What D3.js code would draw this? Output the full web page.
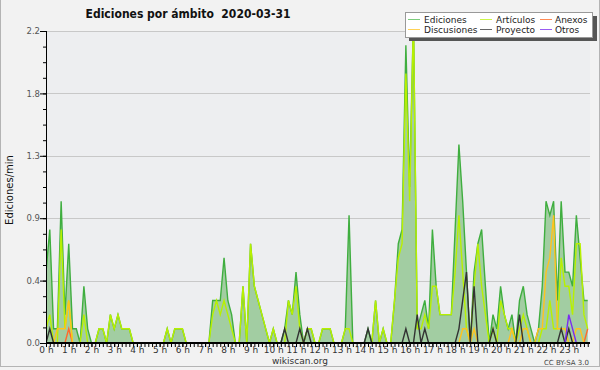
<!DOCTYPE html>
<html>
<head>
<meta charset="utf-8">
<script src="https://cdn.jsdelivr.net/npm/d3@7/dist/d3.min.js"></script>
<style>
  body { margin: 0; background: #f2f2f2; }
  text { font-family: "DejaVu Sans", sans-serif; }
</style>
</head>
<body>
<div id="chart"></div>
<script>
// 10-minute bins, edits per minute, 0h00 .. 23h50
const hourLabels = d3.range(24).map(h => h + ' h');
const yTicks = [0, 0.44, 0.88, 1.32, 1.76, 2.2];

const ediciones = [
  0.5, 0.8, 0.1, 0.1, 1.0, 0.2,
  0.7, 0.1, 0.1, 0, 0.4, 0.1,
  0, 0, 0.1, 0.1, 0, 0.2,
  0.1, 0.2, 0.1, 0.1, 0.1, 0,
  0, 0, 0, 0, 0, 0,
  0, 0, 0.1, 0, 0.1, 0.1,
  0.1, 0, 0, 0, 0, 0,
  0, 0, 0.3, 0.3, 0.3, 0.6,
  0.3, 0.2, 0, 0, 0.4, 0,
  0.7, 0.4, 0.3, 0.2, 0.1, 0,
  0.1, 0, 0, 0.1, 0.3, 0.2,
  0.5, 0.2, 0, 0.1, 0.1, 0,
  0, 0.1, 0.1, 0.1, 0, 0,
  0, 0.1, 0.9, 0, 0, 0,
  0, 0.1, 0, 0.3, 0, 0.1,
  0, 0, 0.3, 0.7, 0.8, 2.1,
  1.1, 2.3, 0.1, 0.2, 0.3, 0.1,
  0.8, 0.4, 0.2, 0.2, 0.2, 0.2,
  0.8, 1.4, 1.0, 0.5, 0, 0.5,
  0.7, 0.8, 0.4, 0, 0.2, 0.1,
  0.4, 0.2, 0.1, 0.2, 0, 0.3,
  0.4, 0.2, 0.1, 0, 0.1, 0.4,
  1.0, 0.9, 1.0, 0.3, 1.0, 0.5,
  0.5, 0.4, 0.9, 0.6, 0.3, 0.3
];
const articulos = [
  0.1, 0.2, 0, 0, 0.8, 0.1,
  0.3, 0, 0, 0, 0.2, 0,
  0, 0, 0.1, 0.1, 0, 0.2,
  0.1, 0.2, 0.1, 0.1, 0.1, 0,
  0, 0, 0, 0, 0, 0,
  0, 0, 0.1, 0, 0.1, 0.1,
  0.1, 0, 0, 0, 0, 0,
  0, 0, 0.2, 0.3, 0.2, 0.3,
  0.2, 0.1, 0, 0, 0.4, 0,
  0.7, 0.4, 0.3, 0.2, 0.1, 0,
  0.1, 0, 0, 0, 0.3, 0.2,
  0.4, 0.1, 0, 0.1, 0.1, 0,
  0, 0.1, 0.1, 0.1, 0, 0,
  0, 0.1, 0.1, 0, 0, 0,
  0, 0, 0, 0.3, 0, 0.1,
  0, 0, 0.3, 0.6, 0.7, 1.9,
  1.0, 2.3, 0.1, 0.1, 0.2, 0.1,
  0.4, 0.4, 0.2, 0.2, 0.2, 0.2,
  0.5, 0.9, 0.5, 0.1, 0, 0.4,
  0.7, 0.4, 0.2, 0, 0.1, 0,
  0.3, 0.2, 0.1, 0.1, 0, 0.1,
  0.2, 0.1, 0, 0, 0, 0.1,
  0.1, 0.3, 0.1, 0.1, 0.6, 0.4,
  0.4, 0.2, 0.7, 0.7, 0.2, 0.1
];
const anexos = [
  0, 0, 0, 0, 0, 0,  0.1, 0, 0, 0, 0, 0,
  0, 0, 0, 0, 0, 0,  0, 0, 0, 0, 0, 0,
  0, 0, 0, 0, 0, 0,  0, 0, 0, 0, 0, 0,
  0, 0, 0, 0, 0, 0,  0, 0, 0, 0, 0, 0,
  0, 0, 0, 0, 0, 0,  0, 0, 0, 0, 0, 0,
  0, 0, 0, 0, 0, 0,  0, 0, 0, 0, 0, 0,
  0, 0, 0, 0, 0, 0,  0, 0, 0, 0, 0, 0,
  0, 0, 0, 0, 0, 0,  0, 0, 0, 0, 0, 0,
  0, 0, 0, 0, 0, 0,  0, 0, 0, 0, 0, 0,
  0, 0, 0, 0, 0, 0,  0, 0, 0, 0, 0, 0,
  0, 0, 0, 0, 0, 0,  0, 0, 0, 0, 0, 0,
  0, 0, 0, 0, 0, 0,  0, 0, 0, 0, 0, 0.1
];
const discusiones = [
  0, 0, 0, 0.1, 0.1, 0.1,  0.3, 0, 0, 0, 0, 0,
  0, 0, 0, 0, 0, 0,  0, 0, 0, 0, 0, 0,
  0, 0, 0, 0, 0, 0,  0, 0, 0, 0, 0, 0,
  0, 0, 0, 0, 0, 0,  0, 0, 0, 0, 0, 0,
  0, 0, 0, 0, 0, 0,  0, 0, 0, 0, 0, 0,
  0, 0, 0, 0, 0, 0,  0, 0, 0, 0, 0, 0,
  0, 0, 0, 0, 0, 0,  0, 0, 0, 0, 0, 0,
  0, 0, 0, 0, 0, 0,  0, 0, 0, 0, 0, 0,
  0, 0, 0, 0, 0, 0,  0, 0, 0, 0, 0, 0,
  0, 0, 0.1, 0.1, 0, 0.1,  0, 0, 0, 0, 0, 0,
  0, 0, 0, 0.1, 0, 0,  0.1, 0.1, 0, 0, 0.1, 0.1,
  0.5, 0.6, 0.9, 0.1, 0.1, 0.1,  0, 0, 0.1, 0.1, 0, 0
];
const proyecto = [
  0, 0.1, 0, 0, 0, 0,  0, 0, 0, 0, 0, 0,
  0, 0, 0, 0, 0, 0,  0, 0, 0, 0, 0, 0,
  0, 0, 0, 0, 0, 0,  0, 0, 0, 0, 0, 0,
  0, 0, 0, 0, 0, 0,  0, 0, 0, 0, 0, 0,
  0, 0, 0, 0, 0, 0,  0, 0, 0, 0, 0, 0,
  0, 0, 0, 0.1, 0, 0,  0, 0.1, 0, 0.1, 0, 0,
  0, 0, 0, 0, 0, 0,  0, 0, 0, 0, 0, 0,
  0, 0.1, 0, 0, 0, 0,  0, 0, 0, 0, 0, 0.1,
  0, 0, 0.2, 0, 0.1, 0,  0, 0, 0, 0, 0, 0,
  0, 0.1, 0.3, 0.5, 0, 0.4,  0, 0, 0, 0, 0.1, 0,
  0, 0, 0, 0, 0, 0.2,  0, 0, 0, 0, 0, 0,
  0, 0, 0, 0, 0.1, 0,  0.1, 0, 0, 0, 0, 0
];
const otros = [
  0, 0, 0, 0, 0, 0,  0, 0, 0, 0, 0, 0,
  0, 0, 0, 0, 0, 0,  0, 0, 0, 0, 0, 0,
  0, 0, 0, 0, 0, 0,  0, 0, 0, 0, 0, 0,
  0, 0, 0, 0, 0, 0,  0, 0, 0, 0, 0, 0,
  0, 0, 0, 0, 0, 0,  0, 0, 0, 0, 0, 0,
  0, 0, 0, 0, 0, 0,  0, 0, 0, 0, 0, 0,
  0, 0, 0, 0, 0, 0,  0, 0, 0, 0, 0, 0,
  0, 0, 0, 0, 0, 0,  0, 0, 0, 0, 0, 0,
  0, 0, 0, 0, 0, 0,  0, 0, 0, 0, 0, 0,
  0, 0, 0, 0, 0, 0,  0, 0, 0, 0, 0, 0,
  0, 0, 0, 0, 0, 0,  0, 0, 0, 0, 0, 0,
  0, 0, 0, 0, 0, 0,  0.2, 0.1, 0, 0, 0, 0
];

const seriesNames = ['Ediciones', 'Artículos', 'Anexos', 'Discusiones', 'Proyecto', 'Otros'];
const seriesColors = ['#3fae3f', '#b8f000', '#ff6a2c', '#ffc31e', '#333333', '#7b2cf0'];
const seriesValues = [ediciones, articulos, anexos, discusiones, proyecto, otros];

const width = 600, height = 370;
const plotLeft = 46, plotRight = 590, plotTop = 31, plotBottom = 343;

const svg = d3.select('#chart').append('svg')
  .attr('width', width)
  .attr('height', height);

// page frame
svg.append('rect')
  .attr('x', 0.5).attr('y', -2)
  .attr('width', width - 1).attr('height', height - 1.5)
  .attr('fill', '#f2f2f2')
  .attr('stroke', '#b4b4b4');

// plot background
svg.append('rect')
  .attr('x', plotLeft).attr('y', plotTop)
  .attr('width', plotRight - plotLeft).attr('height', plotBottom - plotTop)
  .attr('fill', '#edeef0');

const xScale = d3.scaleLinear().domain([0, 144]).range([plotLeft, 591.5]);
const yScale = d3.scaleLinear().domain([0, 2.2]).range([plotBottom, plotTop]);

// grid
svg.append('g')
  .selectAll('line')
  .data(yTicks.slice(1))
  .enter().append('line')
  .attr('x1', plotLeft).attr('x2', plotRight)
  .attr('y1', d => Math.round(yScale(d)) + 0.5)
  .attr('y2', d => Math.round(yScale(d)) + 0.5)
  .attr('stroke', '#c8c8c8');

svg.append('clipPath').attr('id', 'plotclip')
  .append('rect')
  .attr('x', plotLeft).attr('y', plotTop)
  .attr('width', plotRight - plotLeft).attr('height', plotBottom - plotTop);

const plot = svg.append('g').attr('clip-path', 'url(#plotclip)');

const area = d3.area()
  .x((d, i) => xScale(i))
  .y0(plotBottom)
  .y1(d => yScale(d));

plot.append('path')
  .datum(ediciones)
  .attr('d', area)
  .attr('fill', '#a2cda2');

const line = d3.line()
  .x((d, i) => xScale(i))
  .y(d => yScale(d));

seriesValues.forEach((vals, k) => {
  plot.append('path')
    .datum(vals)
    .attr('d', line)
    .attr('fill', 'none')
    .attr('stroke', seriesColors[k])
    .attr('stroke-width', 1.4)
    .attr('stroke-linejoin', 'miter');
});

// y axis
const yAxis = svg.append('g').attr('transform', 'translate(' + plotLeft + ',0)');
yAxis.call(d3.axisLeft(yScale)
    .tickValues(d3.range(0, 21).map(k => k * 0.11))
    .tickSize(3)
    .tickFormat(''))
  .call(g => g.select('.domain').remove());
yAxis.append('g')
  .call(d3.axisLeft(yScale)
    .tickValues(yTicks)
    .tickSize(6)
    .tickFormat(d3.format('.1f')))
  .call(g => g.select('.domain').remove())
  .call(g => g.selectAll('text')
    .attr('font-size', 8.5)
    .attr('fill', '#555')
    .attr('x', -6)
    .style('font-family', '"DejaVu Sans", sans-serif'));
yAxis.append('line')
  .attr('x1', 0.5).attr('x2', 0.5)
  .attr('y1', plotTop).attr('y2', plotBottom + 1)
  .attr('stroke', '#000');
yAxis.selectAll('.tick line').attr('stroke', '#000');

// x axis
const xAxis = svg.append('g').attr('transform', 'translate(0,' + plotBottom + ')');
xAxis.call(d3.axisBottom(xScale)
    .tickValues(d3.range(0, 144))
    .tickSize(4)
    .tickFormat(''))
  .call(g => g.select('.domain').remove());
xAxis.append('g')
  .call(d3.axisBottom(xScale)
    .tickValues(d3.range(0, 144, 6))
    .tickSize(4)
    .tickFormat((d, i) => hourLabels[i]))
  .call(g => g.select('.domain').remove())
  .call(g => g.selectAll('text')
    .attr('font-size', 9)
    .attr('fill', '#333')
    .attr('y', 4)
    .style('font-family', '"DejaVu Sans", sans-serif'));
xAxis.append('line')
  .attr('x1', plotLeft).attr('x2', plotRight)
  .attr('y1', 0).attr('y2', 0)
  .attr('stroke', '#000')
  .attr('stroke-width', 2);
xAxis.selectAll('.tick line').attr('stroke', '#000');

// title
svg.append('text')
  .attr('x', 188).attr('y', 18)
  .attr('text-anchor', 'middle')
  .attr('font-size', 12)
  .attr('font-weight', 'bold')
  .attr('fill', '#111')
  .style('font-family', '"DejaVu Sans Condensed", "DejaVu Sans", sans-serif')
  .style('white-space', 'pre')
  .text('Ediciones por ámbito  2020-03-31');

// y label
svg.append('text')
  .attr('transform', 'translate(13,190) rotate(-90)')
  .attr('text-anchor', 'middle')
  .attr('font-size', 10)
  .attr('fill', '#111')
  .text('Ediciones/min');

// footer
svg.append('text')
  .attr('x', 300).attr('y', 364)
  .attr('text-anchor', 'middle')
  .attr('font-size', 9)
  .attr('fill', '#333')
  .text('wikiscan.org');
svg.append('text')
  .attr('x', 589).attr('y', 365)
  .attr('text-anchor', 'end')
  .attr('font-size', 7)
  .attr('fill', '#444')
  .text('CC BY-SA 3.0');

// legend
const legend = svg.append('g');
legend.append('rect')
  .attr('x', 409).attr('y', 16)
  .attr('width', 188).attr('height', 25)
  .attr('fill', '#555');
legend.append('rect')
  .attr('x', 405.5).attr('y', 12.5)
  .attr('width', 187).attr('height', 25)
  .attr('fill', '#fff')
  .attr('stroke', '#999');
const colSwatch = [408, 480, 540];
const colText = [424, 496, 555];
const swatchColors = ['#7ccc7c', '#ccf54a', '#ff8a55', '#ffd256', '#666666', '#9a5cf2'];
seriesNames.forEach((name, k) => {
  const row = Math.floor(k / 3), col = k % 3;
  const y = 19.5 + row * 10;
  legend.append('line')
    .attr('x1', colSwatch[col]).attr('x2', colSwatch[col] + 12)
    .attr('y1', y).attr('y2', y)
    .attr('stroke', swatchColors[k])
    .attr('stroke-width', 1);
  legend.append('text')
    .attr('x', colText[col]).attr('y', y + 3.5)
    .attr('font-size', 9)
    .attr('fill', '#222')
    .text(name);
});
</script>
</body>
</html>
